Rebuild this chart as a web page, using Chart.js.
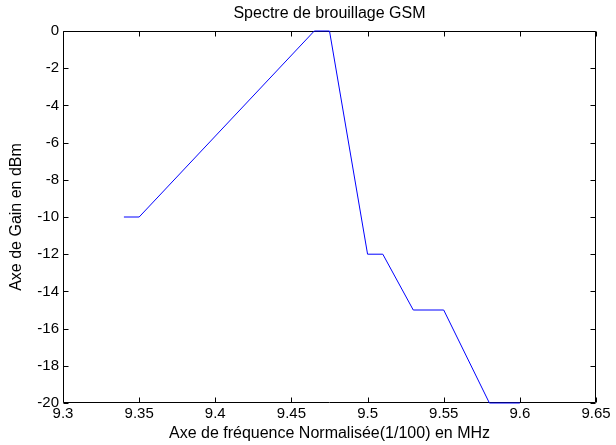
<!DOCTYPE html>
<html>
<head>
<meta charset="utf-8">
<script src="https://cdn.jsdelivr.net/npm/chart.js@4.4.1/dist/chart.umd.min.js"></script>
<style>
  html, body { margin: 0; padding: 0; background: #fff; }
  canvas { display: block; }
</style>
</head>
<body>
<canvas id="c" width="616" height="445"></canvas>
<script>
const freq = [9.34, 9.35, 9.465, 9.475, 9.50, 9.51, 9.53, 9.55, 9.58, 9.60];
const gain = [-10, -10, 0, 0, -12, -12, -15, -15, -20, -20];
const xTickValues = [9.3, 9.35, 9.4, 9.45, 9.5, 9.55, 9.6, 9.65];
const xTickLabels = ["9.3", "9.35", "9.4", "9.45", "9.5", "9.55", "9.6", "9.65"];
const yTickValues = [0, -2, -4, -6, -8, -10, -12, -14, -16, -18, -20];
const yTickLabels = ["0", "-2", "-4", "-6", "-8", "-10", "-12", "-14", "-16", "-18", "-20"];
const titleText = "Spectre de brouillage GSM";
const xTitle = "Axe de fréquence Normalisée(1/100) en MHz";
const yTitle = "Axe de Gain en dBm";

const FONT = "'Liberation Sans', Arial, Helvetica, sans-serif";
const FS = 15;
const FT = 16;

const boxPlugin = {
  id: 'matlabBox',
  afterLayout(chart) {
    const tb = chart.titleBlock;
    if (tb) {
      tb.left = chart.chartArea.left;
      tb.right = chart.chartArea.right;
      tb.width = tb.right - tb.left;
    }
  },
  beforeDatasetsDraw(chart) {
    const { ctx, chartArea: a, scales } = chart;
    ctx.save();
    ctx.strokeStyle = '#000';
    ctx.lineWidth = 1;
    const L = Math.round(a.left) + 0.5, R = Math.round(a.right) - 0.5;
    const T = Math.round(a.top) + 0.5, B = Math.round(a.bottom) - 0.5;
    ctx.beginPath();
    ctx.rect(L, T, R - L, B - T);
    const tl = 5;
    xTickValues.forEach(v => {
      const x = Math.round(scales.x.getPixelForValue(v)) + 0.5;
      ctx.moveTo(x, B); ctx.lineTo(x, B - tl);
      ctx.moveTo(x, T); ctx.lineTo(x, T + tl);
    });
    yTickValues.forEach(v => {
      const y = Math.round(scales.y.getPixelForValue(v)) + 0.5;
      ctx.moveTo(L, y); ctx.lineTo(L + tl, y);
      ctx.moveTo(R, y); ctx.lineTo(R - tl, y);
    });
    ctx.stroke();
    ctx.restore();
  }
};

new Chart(document.getElementById('c'), {
  type: 'line',
  data: {
    datasets: [{
      data: freq.map((f, i) => ({ x: f, y: gain[i] })),
      borderColor: '#0000ff',
      borderWidth: 1,
      pointRadius: 0,
      tension: 0,
      fill: false,
      clip: false
    }]
  },
  options: {
    responsive: false,
    animation: false,
    devicePixelRatio: 1,
    layout: { padding: { left: 0, right: 20, top: 0, bottom: 0 } },
    plugins: {
      legend: { display: false },
      tooltip: { enabled: false },
      title: {
        display: true,
        text: titleText,
        color: '#000',
        font: { family: FONT, size: FT, weight: 'normal', lineHeight: 1.2 },
        padding: { top: 4.2, bottom: 7.6 }
      }
    },
    scales: {
      x: {
        type: 'linear',
        min: 9.3,
        max: 9.65,
        grid: { display: false, drawTicks: false },
        border: { display: false },
        afterBuildTicks(scale) { scale.ticks = xTickValues.map(v => ({ value: v })); },
        afterFit(scale) { scale.height = 42; },
        ticks: {
          color: '#000',
          padding: 1.5,
          maxRotation: 0,
          autoSkip: false,
          font: { family: FONT, size: FS },
          callback: (v, i) => xTickLabels[i]
        },
        title: {
          display: true,
          text: xTitle,
          color: '#000',
          font: { family: FONT, size: FT, lineHeight: 1.2 },
          padding: { top: 0, bottom: 2.2 }
        }
      },
      y: {
        type: 'linear',
        min: -20,
        max: 0,
        grid: { display: false, drawTicks: false },
        border: { display: false },
        afterBuildTicks(scale) { scale.ticks = yTickValues.map(v => ({ value: v })); },
        afterFit(scale) { scale.width = 63; },
        ticks: {
          color: '#000',
          padding: 4,
          autoSkip: false,
          font: { family: FONT, size: FS },
          callback: (v, i) => yTickLabels[i]
        },
        title: {
          display: true,
          text: yTitle,
          color: '#000',
          font: { family: FONT, size: FT, lineHeight: 1.2 },
          padding: { top: 7.4, bottom: 0 }
        }
      }
    }
  },
  plugins: [boxPlugin]
});
</script>
</body>
</html>
